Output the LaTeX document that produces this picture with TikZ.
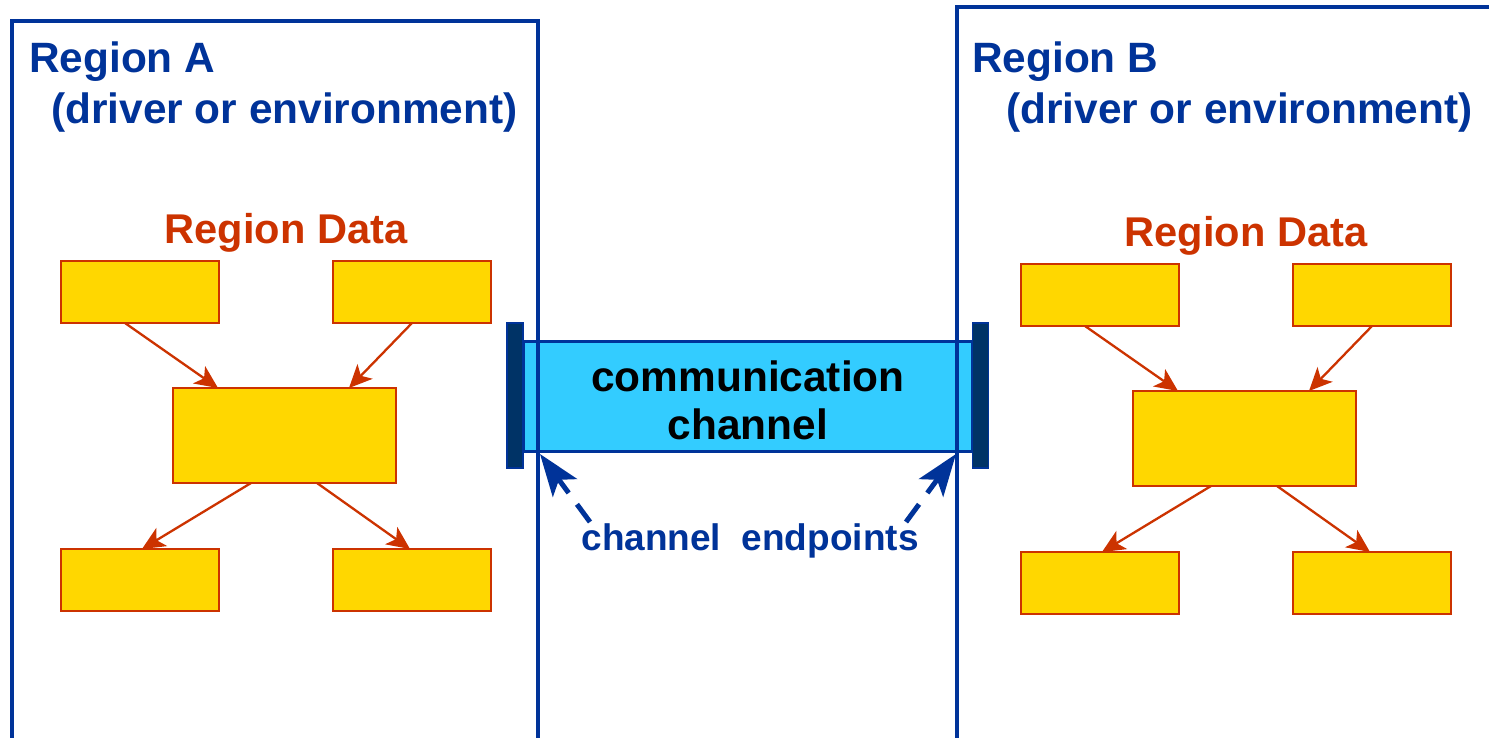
\documentclass[tikz,border=0pt]{standalone}
\usepackage{fontspec}
\setmainfont{Liberation Sans}
\usetikzlibrary{arrows.meta}
\definecolor{rblue}{RGB}{0,51,153}
\definecolor{rnavy}{RGB}{0,51,102}
\definecolor{rcyan}{RGB}{51,204,255}
\definecolor{rorange}{RGB}{204,51,0}
\definecolor{ryellow}{RGB}{255,215,0}
\begin{document}
\begin{tikzpicture}[x=1pt,y=-1pt,
  region/.style={draw=rblue,line width=4.5pt},
  databox/.style={draw=rorange,fill=ryellow,line width=2.6pt,minimum width=158pt,minimum height=62pt,inner sep=0pt,outer sep=0pt},
  hubbox/.style={databox,minimum width=223pt,minimum height=95pt},
  flow/.style={draw=rorange,line width=2.3pt,-{Stealth[length=23pt,width=21pt,inset=6pt]}},
  bigtxt/.style={inner sep=0pt,font=\fontsize{42.4}{50}\selectfont\bfseries},
  bluetxt/.style={bigtxt,text=rblue},
  datatxt/.style={inner sep=0pt,font=\fontsize{41.6}{50}\selectfont\bfseries,text=rorange,anchor=base},
  tube/.style={draw=rblue,fill=rcyan,line width=3pt,minimum width=449pt,minimum height=110pt,inner sep=0pt,outer sep=0pt},
  endcap/.style={draw=rblue,fill=rnavy,line width=1.5pt,minimum width=16pt,minimum height=145pt,inner sep=0pt,outer sep=0pt},
  epArrow/.style={draw=rblue,line width=5pt,dash pattern=on 22pt off 14pt,-{Stealth[length=42pt,width=30pt,inset=10pt]}}
]
\useasboundingbox (0,0) rectangle (1489,737);
\fill[white] (0,0) rectangle (1489,737);

% channel
\node[tube] (chan) at (747.5,396) {};
\node[endcap] (capL) at (515,395.5) {};
\node[endcap] (capR) at (980.5,395.5) {};
\node[bigtxt,anchor=base] (ct1) at (748,391) {communication};
\node[bigtxt,anchor=base] (ct2) at (748,439) {channel};

% regions
\draw[region] (12,21) rectangle (538,745);
\draw[region] (957,7) rectangle (1500,745);
\node[bluetxt,anchor=base west] (ra1) at (29,72) {Region A};
\node[bluetxt,anchor=base west] (ra2) at (51,123) {(driver or environment)};
\node[bluetxt,anchor=base west] (rb1) at (972,72) {Region B};
\node[bluetxt,anchor=base west] (rb2) at (1006,123) {(driver or environment)};

% region data graphs
\foreach \p/\dx/\dy in {a/0/0,b/960/3}{
  \begin{scope}[shift={(\dx,\dy)}]
    \node[datatxt] (\p t) at (286,243) {Region Data};
    \node[databox] (\p1) at (140,292) {};
    \node[databox] (\p2) at (412,292) {};
    \node[hubbox]  (\p3) at (284.5,435.5) {};
    \node[databox] (\p4) at (140,580) {};
    \node[databox] (\p5) at (412,580) {};
    \draw[flow] ([xshift=-15pt]\p1.south) -- ([xshift=-66.5pt]\p3.north);
    \draw[flow] (\p2.south) -- ([xshift=64.5pt]\p3.north);
    \draw[flow] ([xshift=-33.5pt]\p3.south) -- ([xshift=2pt]\p4.north);
    \draw[flow] ([xshift=32.5pt]\p3.south) -- ([xshift=-2pt]\p5.north);
  \end{scope}
}

% endpoints
\node[inner sep=0pt,anchor=base,text=rblue,font=\fontsize{37}{44}\selectfont\bfseries] (ep) at (750,550) {channel\ \ endpoints};
\coordinate (sL) at (590,522);
\coordinate (eL) at (540,454);
\coordinate (sR) at (906,522);
\coordinate (eR) at (956,454);
\draw[epArrow] (sL) -- (eL);
\draw[epArrow] (sR) -- (eR);
\end{tikzpicture}
\end{document}
